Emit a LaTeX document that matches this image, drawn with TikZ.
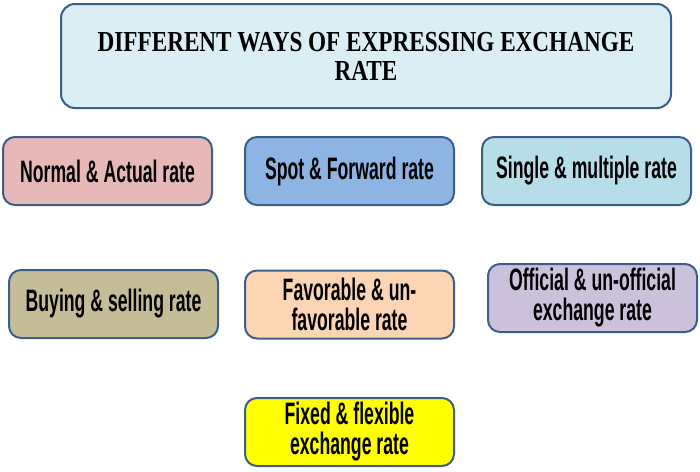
\documentclass[tikz,border=0pt]{standalone}
\usepackage{fontspec}
\newfontfamily\cond[FakeStretch=0.57]{Liberation Sans}
\newfontfamily\titlefont[FakeStretch=0.8]{Liberation Serif}
\definecolor{bordc}{HTML}{3B5E8A}
\definecolor{cTitle}{HTML}{DBEEF4}
\definecolor{cNormal}{HTML}{E6B9B8}
\definecolor{cSpot}{HTML}{8EB4E3}
\definecolor{cSingle}{HTML}{B7DEE8}
\definecolor{cBuy}{HTML}{C4BD97}
\definecolor{cFav}{HTML}{FCD5B5}
\definecolor{cOff}{HTML}{CCC1DA}
\definecolor{cFix}{HTML}{FFFF00}
\tikzset{
  rbox/.style={draw=bordc, line width=2pt, rounded corners=12pt, minimum width=209pt, minimum height=68pt, align=center, inner sep=0pt, font=\cond\bfseries\fontsize{31}{30}\selectfont},
}
\begin{document}
\begin{tikzpicture}[x=1pt,y=-1pt]
\useasboundingbox[fill=white] (0,0) rectangle (700,471);
\node[draw=bordc, line width=2pt, rounded corners=14pt, fill=cTitle, minimum width=610pt, minimum height=104pt, align=center, inner sep=0pt, font=\titlefont\bfseries\fontsize{29}{29}\selectfont] (title) at (366,56) {DIFFERENT WAYS OF EXPRESSING EXCHANGE\\RATE};
\node[rbox, fill=cNormal] (normal) at (107.5,171) {Normal \& Actual rate};
\node[rbox, fill=cSpot] (spot) at (349.5,171) {Spot \& Forward rate};
\node[rbox, fill=cSingle] (single) at (586.5,171) {Single \& multiple rate};
\node[rbox, fill=cBuy] (buy) at (113.5,304) {Buying \& selling rate};
\node[rbox, fill=cFav] (fav) at (349.5,304.5) {Favorable \& un-\\favorable rate};
\node[rbox, fill=cOff] (off) at (592.5,298) {Official \& un-official\\exchange rate};
\node[rbox, fill=cFix] (fix) at (349.5,432) {Fixed \& flexible\\exchange rate};
\end{tikzpicture}
\end{document}
